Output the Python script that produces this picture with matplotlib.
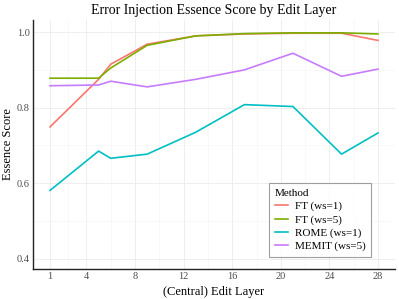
import numpy as np
import matplotlib.pyplot as plt
from matplotlib.ticker import FixedLocator

plt.rcParams['font.family'] = ['Liberation Serif', 'DejaVu Serif']

# ---------- data ---------- #

layers = [1, 5, 6, 9, 13, 17, 21, 25, 28]
ft_ws1 = [0.749, 0.875, 0.915, 0.968, 0.990, 0.995, 0.997, 0.997, 0.978]
ft_ws5 = [0.878, 0.878, 0.905, 0.965, 0.990, 0.996, 0.998, 0.998, 0.995]
rome_ws1 = [0.581, 0.685, 0.666, 0.677, 0.735, 0.808, 0.803, 0.677, 0.733]
memit_ws5 = [0.858, 0.860, 0.870, 0.855, 0.875, 0.900, 0.944, 0.883, 0.902]

names = ['FT (ws=1)', 'FT (ws=5)', 'ROME (ws=1)', 'MEMIT (ws=5)']
colors = ['#F8766D', '#7CAE00', '#00BFC4', '#C77CFF']

xticks = [1, 4, 8, 12, 16, 20, 24, 28]
yticks = [0.4, 0.6, 0.8, 1.0]

# ---------- plot ---------- #

fig = plt.figure(figsize=(3.99, 2.99), dpi=100)
ax = fig.add_axes([33/399, 30/299, 362/399, 249/299])

for ys, name, c in zip([ft_ws1, ft_ws5, rome_ws1, memit_ws5], names, colors):
	ax.plot(layers, ys, color=c, lw=1.2, label=name)

ax.set_xlim(-0.4, 29.4)
ax.set_ylim(0.373, 1.032)
ax.set_xticks(xticks)
ax.set_yticks(yticks)
ax.set_yticklabels(['0.4', '0.6', '0.8', '1.0'])
ax.xaxis.set_minor_locator(FixedLocator([2.5, 6, 10, 14, 18, 22, 26]))
ax.yaxis.set_minor_locator(FixedLocator([0.5, 0.7, 0.9]))
ax.grid(which='major', color='#ebebeb', lw=0.6)
ax.grid(which='minor', color='#f3f3f3', lw=0.4)
ax.set_axisbelow(True)
ax.tick_params(which='minor', length=0)
ax.tick_params(which='major', length=0, labelsize=7.5,
	labelcolor='#4d4d4d', pad=2.5)

for s in ['top', 'right']:
	ax.spines[s].set_visible(False)
for s in ['left', 'bottom']:
	ax.spines[s].set_color('#222222')
	ax.spines[s].set_linewidth(1.0)

ax.set_title('Error Injection Essence Score by Edit Layer', fontsize=10, pad=4)
ax.set_xlabel('(Central) Edit Layer', fontsize=9, labelpad=3)
ax.set_ylabel('Essence Score', fontsize=9, labelpad=2)

leg = ax.legend(title='Method', loc='lower right', bbox_to_anchor=(0.934, 0.048),
	borderaxespad=0, fontsize=8, title_fontsize=8, frameon=True, fancybox=False,
	handlelength=1.2, handletextpad=0.6, labelspacing=0.3,
	borderpad=0.5, edgecolor='#888888')
leg._legend_box.align = 'left'
leg.get_frame().set_linewidth(0.8)

fig.savefig('out.png', dpi=100)
